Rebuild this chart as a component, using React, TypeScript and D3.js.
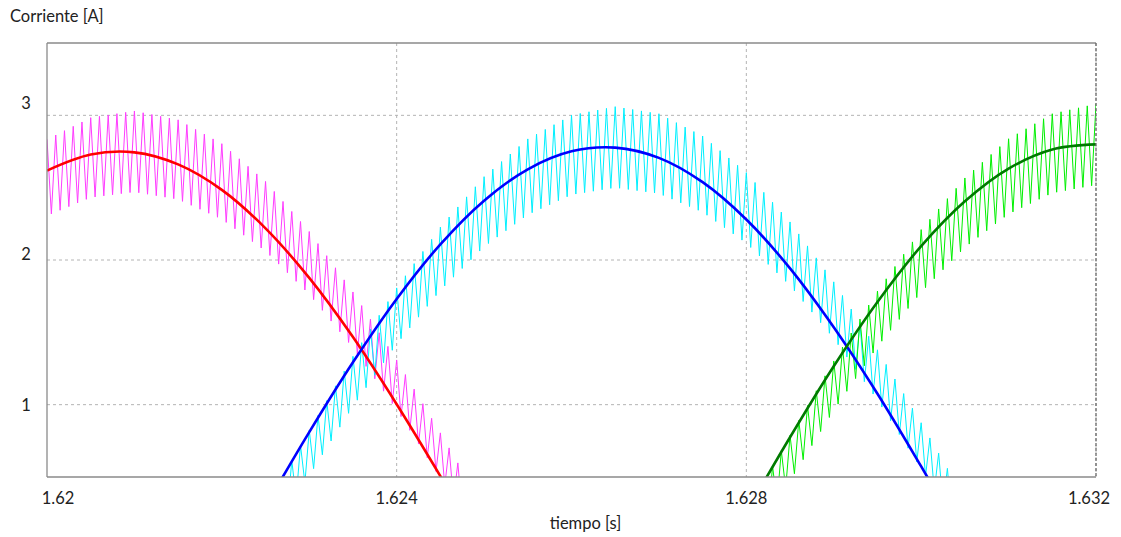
import React from "react";
import * as d3 from "d3";

// ---------- data ----------
const xTicks = [1.62, 1.624, 1.628, 1.632];
const yTicks = [1, 2, 3];
const xDomain = [1.62, 1.632];
const yDomain = [0.5, 3.5];
const switchPeriod = 0.0001; // ripple spike period [s]

const redT = [1.62, 1.6205, 1.621, 1.6215, 1.622, 1.6225, 1.623, 1.6235, 1.624, 1.6245, 1.625];
const redMean = [2.618, 2.729, 2.744, 2.661, 2.485, 2.219, 1.876, 1.467, 1.003, 0.506, -0.009];
const pinkUpper = [2.834, 2.984, 3.03, 2.969, 2.804, 2.543, 2.197, 1.779, 1.309, 0.805, 0.286];
const pinkLower = [2.306, 2.432, 2.47, 2.419, 2.282, 2.061, 1.763, 1.393, 0.965, 0.491, -0.014];

const blueT = [1.6225, 1.623, 1.6235, 1.624, 1.6245, 1.625, 1.6255, 1.626, 1.6265, 1.627, 1.6275, 1.628, 1.6285, 1.629, 1.6295, 1.63, 1.6305];
const blueMean = [0.296, 0.81, 1.293, 1.731, 2.108, 2.41, 2.627, 2.751, 2.777, 2.706, 2.538, 2.28, 1.942, 1.535, 1.075, 0.573, 0.053];
const cyanUpper = [0.299, 0.824, 1.334, 1.807, 2.227, 2.576, 2.837, 3.001, 3.06, 3.011, 2.857, 2.604, 2.263, 1.849, 1.379, 0.875, 0.35];
const cyanLower = [-0.001, 0.51, 0.988, 1.419, 1.791, 2.092, 2.313, 2.451, 2.5, 2.459, 2.331, 2.116, 1.823, 1.457, 1.031, 0.557, 0.048];

const greenT = [1.628, 1.6285, 1.629, 1.6295, 1.63, 1.6305, 1.631, 1.6315, 1.632];
const greenMean = [0.256, 0.775, 1.266, 1.71, 2.096, 2.406, 2.632, 2.764, 2.799];
const lgUpper = [0.258, 0.788, 1.302, 1.785, 2.21, 2.567, 2.838, 3.011, 3.079];
const lgLower = [-0.042, 0.474, 0.96, 1.401, 1.778, 2.087, 2.318, 2.463, 2.519];

// ---------- layout ----------
const W = 1121, H = 537;
const L = 47, R = 1096, T = 43, B = 477;
const FONT = "Lato, 'Open Sans', sans-serif";
const FS = 16.5;

export default function App() {
  const x = d3.scaleLinear().domain(xDomain).range([L, R]);
  const y = d3.scaleLinear().domain(yDomain).range([B, T]);

  const meanLine = d3
    .line<[number, number]>()
    .x((d) => x(d[0]))
    .y((d) => y(d[1]))
    .curve(d3.curveCatmullRom.alpha(0.5));

  const rawLine = d3
    .line<[number, number]>()
    .x((d) => x(d[0]))
    .y((d) => y(d[1]));

  const ripple = (ts: number[], up: number[], lo: number[]) => {
    const fu = d3.scaleLinear().domain(ts).range(up);
    const fl = d3.scaleLinear().domain(ts).range(lo);
    const pts: [number, number][] = [];
    const start = ts[0], end = ts[ts.length - 1];
    const n = Math.floor((end - start) / (switchPeriod / 2));
    for (let k = 0; k <= n; k++) {
      const t = start + (k * switchPeriod) / 2;
      pts.push([t, k % 2 === 0 ? fu(t) : fl(t)]);
    }
    return rawLine(pts) || "";
  };

  const zip = (a: number[], b: number[]) => a.map((v, i) => [v, b[i]] as [number, number]);

  const labelX = (v: number) => Math.min(Math.max(x(v), L + 11), R - 7);

  return (
    <svg width={W} height={H} style={{ position: "absolute", left: 0, top: 0, background: "#fff" }}>
      <defs>
        <clipPath id="plot">
          <rect x={L} y={T} width={R - L} height={B - T} />
        </clipPath>
      </defs>
      <rect x={0} y={0} width={W} height={H} fill="#fff" />

      {/* grid */}
      {yTicks.map((v) => (
        <line key={"gy" + v} x1={L} x2={R} y1={y(v)} y2={y(v)} stroke="#b4b4b4" strokeDasharray="3,3" strokeWidth={1} />
      ))}
      {xTicks.slice(1).map((v) => (
        <line key={"gx" + v} x1={x(v)} x2={x(v)} y1={T} y2={B} stroke="#b4b4b4" strokeDasharray="3,3" strokeWidth={1} />
      ))}

      <g clipPath="url(#plot)">
        <path d={ripple(redT, pinkUpper, pinkLower)} fill="none" stroke="#ff3cff" strokeWidth={1} />
        <path d={ripple(blueT, cyanUpper, cyanLower)} fill="none" stroke="#00f0ff" strokeWidth={1} />
        <path d={ripple(greenT, lgUpper, lgLower)} fill="none" stroke="#00f000" strokeWidth={1} />
        <path d={meanLine(zip(redT, redMean)) || ""} fill="none" stroke="#ff0000" strokeWidth={2.6} />
        <path d={meanLine(zip(blueT, blueMean)) || ""} fill="none" stroke="#0000ff" strokeWidth={2.6} />
        <path d={meanLine(zip(greenT, greenMean)) || ""} fill="none" stroke="#007a00" strokeWidth={2.6} />
      </g>

      {/* frame */}
      <line x1={L} x2={R} y1={T} y2={T} stroke="#8a8a8a" strokeWidth={1.3} />
      <line x1={L} x2={R} y1={B} y2={B} stroke="#8a8a8a" strokeWidth={1.3} />
      <line x1={L} x2={L} y1={T} y2={B} stroke="#8a8a8a" strokeWidth={1.3} />
      <line x1={R} x2={R} y1={T} y2={B} stroke="#6a6a6a" strokeWidth={1.3} strokeDasharray="3,2" />

      {/* tick labels */}
      {yTicks.map((v) => (
        <text key={"ty" + v} x={26} y={y(v) - 6 * (v - 1)} fontFamily={FONT} fontSize={FS} fill="#222" textAnchor="middle" dominantBaseline="central">
          {String(v)}
        </text>
      ))}
      {xTicks.map((v) => (
        <text key={"tx" + v} x={labelX(v)} y={498} fontFamily={FONT} fontSize={FS} fill="#222" textAnchor="middle" dominantBaseline="central">
          {String(v)}
        </text>
      ))}

      <text x={10} y={16} fontFamily={FONT} fontSize={FS} fill="#222" dominantBaseline="central">
        Corriente [A]
      </text>
      <text x={(L + R) / 2 + 14} y={523} fontFamily={FONT} fontSize={FS} fill="#222" textAnchor="middle" dominantBaseline="central">
        tiempo [s]
      </text>
    </svg>
  );
}
